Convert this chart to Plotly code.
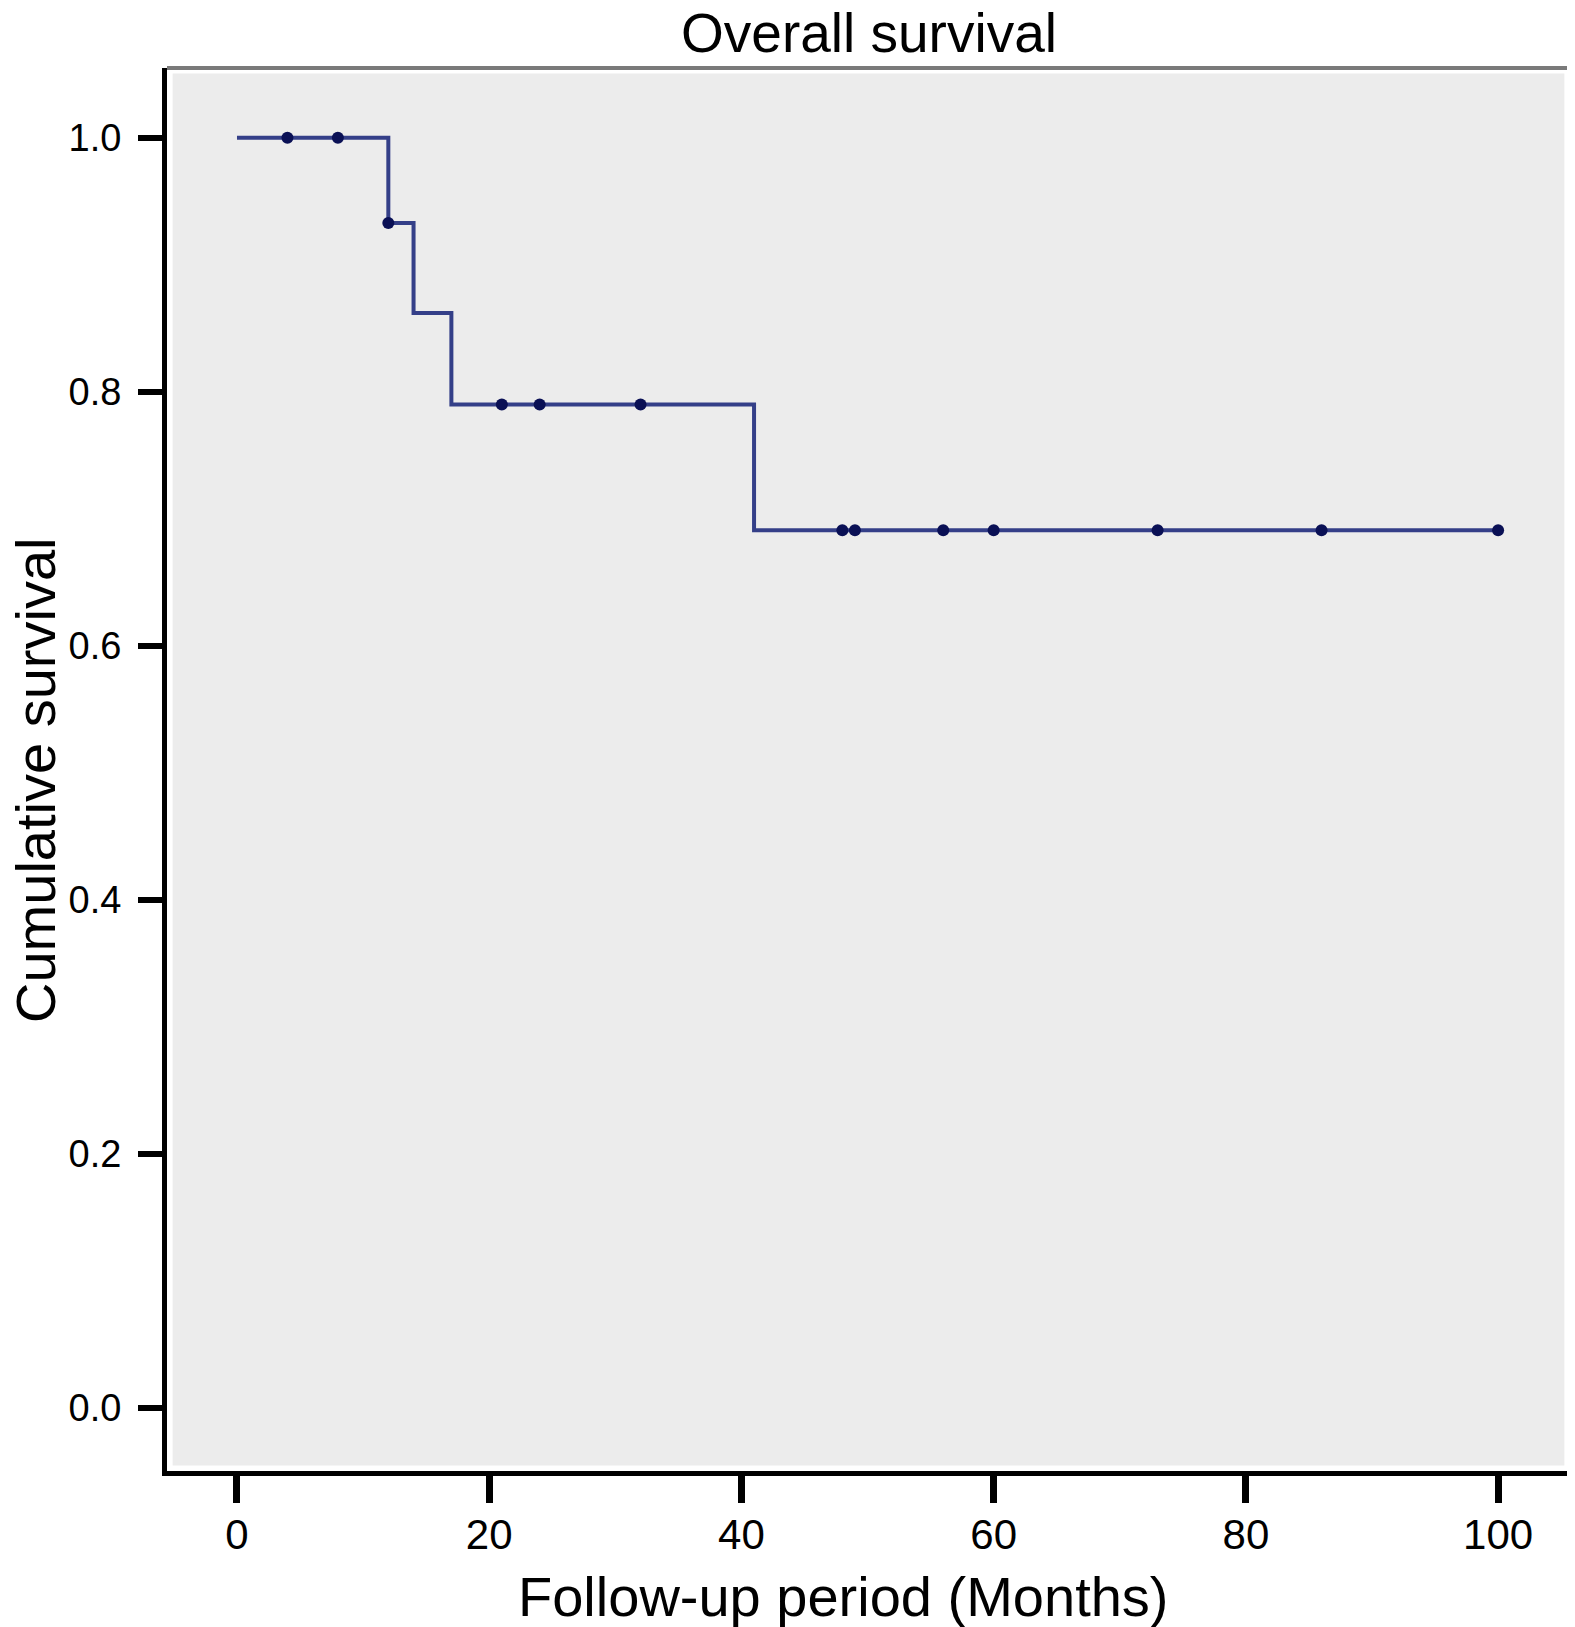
import plotly.graph_objects as go

# Kaplan-Meier step data (months, cumulative survival)
step_times = [0, 12, 14, 17, 41, 100]
step_surv = [1.0, 0.933, 0.862, 0.790, 0.691, 0.691]

# Censored observations
censor_times = [4, 8, 12, 21, 24, 32, 48, 49, 56, 60, 73, 86, 100]
censor_surv = [1.0, 1.0, 0.933, 0.790, 0.790, 0.790, 0.691, 0.691, 0.691, 0.691, 0.691, 0.691, 0.691]

x_ticks = [0, 20, 40, 60, 80, 100]
y_ticks = [0.0, 0.2, 0.4, 0.6, 0.8, 1.0]
y_tick_labels = ["0.0", "0.2", "0.4", "0.6", "0.8", "1.0"]

FONT = "Liberation Sans, Arial, Helvetica, sans-serif"

fig = go.Figure()
fig.add_trace(go.Scatter(
    x=step_times, y=step_surv, mode="lines", line_shape="hv",
    line=dict(color="#343F88", width=4), showlegend=False, hoverinfo="skip"))
fig.add_trace(go.Scatter(
    x=censor_times, y=censor_surv, mode="markers",
    marker=dict(symbol="circle", size=12, color="#0A1055"),
    showlegend=False))

W, H = 1575, 1627
L, R, T, B = 159, 13, 60, 164

fig.update_layout(
    width=W, height=H,
    margin=dict(l=L, r=R, t=T, b=B),
    paper_bgcolor="white", plot_bgcolor="white",
    font=dict(family=FONT, color="black"),
    title=dict(text="Overall survival", x=861 / W, xref="container", xanchor="center",
               y=1 - 25 / H, yref="container", yanchor="middle",
               font=dict(size=55, family=FONT, color="black")),
    xaxis=dict(range=[-5.55, 105.7], tickvals=x_ticks, showgrid=False, zeroline=False,
               showline=True, linecolor="black", linewidth=5,
               ticks="outside", ticklen=27, tickwidth=7, tickcolor="black",
               tickfont=dict(size=42, family=FONT, color="black"), ticklabelstandoff=-4),
    yaxis=dict(range=[-0.050, 1.055], tickvals=y_ticks, ticktext=y_tick_labels,
               showgrid=False, zeroline=False,
               showline=True, linecolor="black", linewidth=5,
               ticks="outside", ticklen=24, tickwidth=6, tickcolor="black",
               tickfont=dict(size=38, family=FONT, color="black"), ticklabelstandoff=9),
    shapes=[
        dict(type="rect", xref="x domain", yref="y domain", x0=0.004, x1=0.996,
             y0=0.004, y1=0.996, fillcolor="#ECECEC", line=dict(width=0), layer="below"),
        dict(type="line", xref="x domain", yref="y domain", x0=0, x1=1, y0=1, y1=1,
             line=dict(color="#7A7A7A", width=4)),
        dict(type="line", xref="x domain", yref="y domain", x0=1, x1=1, y0=0, y1=1.0,
             line=dict(color="black", width=5)),
    ],
    annotations=[
        dict(text="Follow-up period (Months)", xref="paper", yref="paper",
             x=(835 - L) / (W - L - R), y=-(1588 - (H - B)) / (H - T - B),
             xanchor="center", yanchor="middle", showarrow=False,
             font=dict(size=56, family=FONT, color="black")),
        dict(text="Cumulative survival", xref="paper", yref="paper",
             x=-(L - 27) / (W - L - R), y=(H - B - 772) / (H - T - B),
             xanchor="center", yanchor="middle", textangle=-90, showarrow=False,
             font=dict(size=56, family=FONT, color="black")),
    ],
)

fig.write_html("out.html")
